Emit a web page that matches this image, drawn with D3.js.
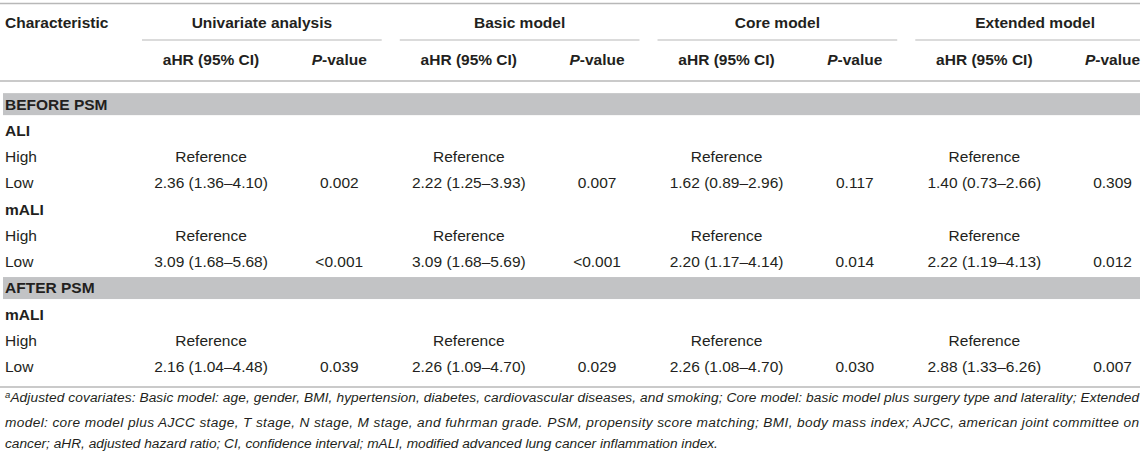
<!DOCTYPE html>
<html>
<head>
<meta charset="utf-8">
<script src="https://cdn.jsdelivr.net/npm/d3@7"></script>
<style>
  body { margin: 0; background: #fff; }
  text { font-family: "Liberation Sans", Arial, Helvetica, sans-serif; fill: #231f20; }
</style>
</head>
<body>
<div id="chart"></div>
<script>
const groups = ["Univariate analysis", "Basic model", "Core model", "Extended model"];
const subHeaders = ["aHR (95% CI)", "P-value"];

// table body rows: type "section" = grey band, "var" = bold variable, "level" = data row
const rowTypes = ["section", "var", "level", "level", "var", "level", "level", "section", "var", "level", "level"];
const rowLabels = ["BEFORE PSM", "ALI", "High", "Low", "mALI", "High", "Low", "AFTER PSM", "mALI", "High", "Low"];

// values per group for each row ("" for none)
const univariate = ["", "", "Reference", "2.36 (1.36–4.10)", "", "Reference", "3.09 (1.68–5.68)", "", "", "Reference", "2.16 (1.04–4.48)"];
const univariateP = ["", "", "", "0.002", "", "", "<0.001", "", "", "", "0.039"];
const basic = ["", "", "Reference", "2.22 (1.25–3.93)", "", "Reference", "3.09 (1.68–5.69)", "", "", "Reference", "2.26 (1.09–4.70)"];
const basicP = ["", "", "", "0.007", "", "", "<0.001", "", "", "", "0.029"];
const core = ["", "", "Reference", "1.62 (0.89–2.96)", "", "Reference", "2.20 (1.17–4.14)", "", "", "Reference", "2.26 (1.08–4.70)"];
const coreP = ["", "", "", "0.117", "", "", "0.014", "", "", "", "0.030"];
const extended = ["", "", "Reference", "1.40 (0.73–2.66)", "", "Reference", "2.22 (1.19–4.13)", "", "", "Reference", "2.88 (1.33–6.26)"];
const extendedP = ["", "", "", "0.309", "", "", "0.012", "", "", "", "0.007"];

const footnote = [
  "Adjusted covariates: Basic model: age, gender, BMI, hypertension, diabetes, cardiovascular diseases, and smoking; Core model: basic model plus surgery type and laterality; Extended",
  "model: core model plus AJCC stage, T stage, N stage, M stage, and fuhrman grade. PSM, propensity score matching; BMI, body mass index; AJCC, american joint committee on",
  "cancer; aHR, adjusted hazard ratio; CI, confidence interval; mALI, modified advanced lung cancer inflammation index."
];

const W = 1145, H = 458;
const tableRight = 1140;
const lineColor = "#b8b8b8";
const fs = "15.5px";

const svg = d3.select("#chart").append("svg")
  .attr("width", W)
  .attr("height", H);

// group band scale over the numeric area
const xGroup = d3.scaleBand().domain(groups).range([142, 1155]).paddingInner(0.07);
// column centers within each group (fraction of group width)
const xSub = d3.scalePoint().domain(subHeaders).range([0.288, 0.823]);
const colX = (g, s) => xGroup(g) + xGroup.bandwidth() * xSub(s);

const rowIdx = d3.range(rowLabels.length);
const y = d3.scaleBand().domain(rowIdx).range([91, 380]);
const yc = i => y(i) + y.bandwidth() / 2;

// rules
const hline = (yy, x1, x2, w) => svg.append("line")
  .attr("x1", x1).attr("x2", x2).attr("y1", yy).attr("y2", yy)
  .attr("stroke", lineColor).attr("stroke-width", w);
hline(3.5, 0, tableRight, 1.5);
hline(81, 0, tableRight, 1.5);
hline(387, 0, tableRight, 1.5);

// header row 1
svg.append("text")
  .attr("x", 5).attr("y", 23).attr("dy", "0.35em")
  .style("font-size", fs).style("font-weight", "bold")
  .text("Characteristic");

svg.selectAll(".group-title")
  .data(groups)
  .join("text")
  .attr("class", "group-title")
  .attr("x", d => xGroup(d) + xGroup.bandwidth() / 2)
  .attr("y", 23).attr("dy", "0.35em")
  .attr("text-anchor", "middle")
  .style("font-size", fs).style("font-weight", "bold")
  .text(d => d);

svg.selectAll(".group-rule")
  .data(groups)
  .join("line")
  .attr("class", "group-rule")
  .attr("x1", d => xGroup(d))
  .attr("x2", d => Math.min(xGroup(d) + xGroup.bandwidth(), tableRight))
  .attr("y1", 40).attr("y2", 40)
  .attr("stroke", lineColor).attr("stroke-width", 1.2);

// header row 2
const subCells = groups.flatMap(g => subHeaders.map(s => ({ g, s })));
const subText = svg.selectAll(".sub-title")
  .data(subCells)
  .join("text")
  .attr("class", "sub-title")
  .attr("x", d => colX(d.g, d.s))
  .attr("y", 60).attr("dy", "0.35em")
  .attr("text-anchor", "middle")
  .style("font-size", fs).style("font-weight", "bold");
subText.filter(d => d.s === "P-value").each(function () {
  const t = d3.select(this);
  t.append("tspan").style("font-style", "italic").text("P");
  t.append("tspan").text("-value");
});
subText.filter(d => d.s !== "P-value").text(d => d.s);

// section bands
svg.selectAll(".band")
  .data(rowIdx.filter(i => rowTypes[i] === "section"))
  .join("rect")
  .attr("class", "band")
  .attr("x", 3).attr("width", tableRight - 3)
  .attr("y", i => yc(i) - 11).attr("height", 22)
  .attr("fill", "#c2c3c5");

// row labels
svg.selectAll(".row-label")
  .data(rowIdx)
  .join("text")
  .attr("class", "row-label")
  .attr("x", 5)
  .attr("y", i => yc(i)).attr("dy", "0.35em")
  .style("font-size", fs)
  .style("font-weight", i => rowTypes[i] === "level" ? "normal" : "bold")
  .text(i => rowLabels[i]);

// cell values
const columns = [
  [groups[0], subHeaders[0], univariate], [groups[0], subHeaders[1], univariateP],
  [groups[1], subHeaders[0], basic], [groups[1], subHeaders[1], basicP],
  [groups[2], subHeaders[0], core], [groups[2], subHeaders[1], coreP],
  [groups[3], subHeaders[0], extended], [groups[3], subHeaders[1], extendedP]
];
const cells = columns.flatMap(([g, s, vals]) =>
  vals.map((v, i) => ({ g, s, v, i })).filter(d => d.v !== ""));

svg.selectAll(".cell")
  .data(cells)
  .join("text")
  .attr("class", "cell")
  .attr("x", d => colX(d.g, d.s))
  .attr("y", d => yc(d.i)).attr("dy", "0.35em")
  .attr("text-anchor", "middle")
  .style("font-size", fs)
  .text(d => d.v);

// footnote (first two lines justified)
svg.selectAll(".foot")
  .data(footnote)
  .join("text")
  .attr("class", "foot")
  .attr("x", 5)
  .attr("y", (d, i) => 401 + i * 21).attr("dy", "0.35em")
  .style("font-size", "13.7px").style("font-style", "italic")
  .each(function (d, i) {
    const t = d3.select(this);
    if (i === 0) {
      t.append("tspan").style("font-size", "9.5px").attr("dy", "-0.3em").text("a");
      t.append("tspan").attr("dy", "0.3em").text(d);
    } else {
      t.text(d);
    }
    if (i < 2) t.attr("textLength", 1134).attr("lengthAdjust", "spacing");
  });
</script>
</body>
</html>
